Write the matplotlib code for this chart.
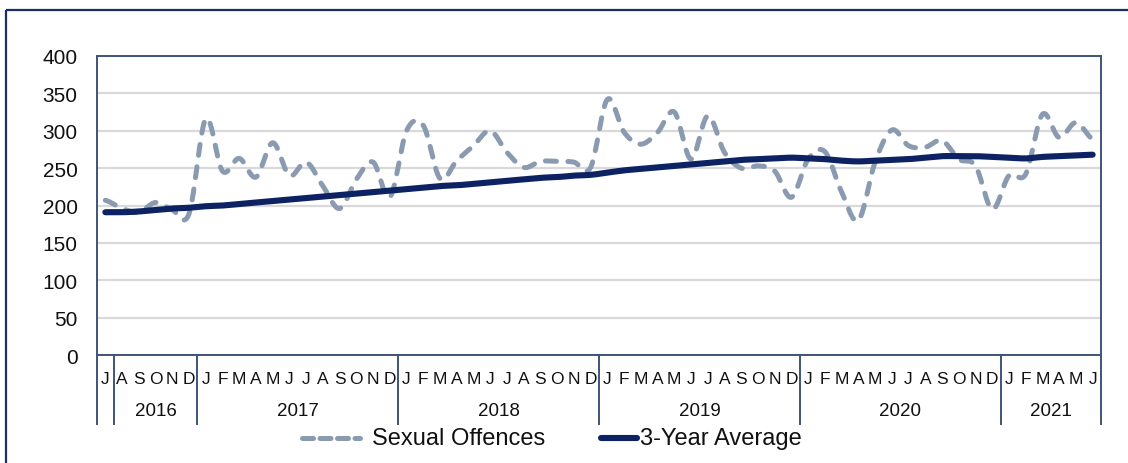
import numpy as np
import matplotlib
matplotlib.use("Agg")
import matplotlib.pyplot as plt
from matplotlib.lines import Line2D
from matplotlib.patches import Rectangle
from matplotlib.transforms import Affine2D

plt.rcParams['font.family'] = ['Liberation Sans', 'DejaVu Sans']

# ---------------- data ----------------
month_labels = ["J", "A", "S", "O", "N", "D"] + \
    ["J", "F", "M", "A", "M", "J", "J", "A", "S", "O", "N", "D"] * 4 + \
    ["J", "F", "M", "A", "M", "J"]
year_labels = ["2016", "2017", "2018", "2019", "2020", "2021"]
year_start = [1, 6, 18, 30, 42, 54]
year_end = [6, 18, 30, 42, 54, 60]
separators = [0, 1, 6, 18, 30, 42, 54, 60]

sexual_offences = [207, 196, 191, 204, 194, 189,
                   316, 246, 263, 238, 284, 240, 258, 226, 196, 235, 258, 211,
                   300, 307, 236, 260, 280, 300, 271, 251, 259, 259, 258, 251,
                   342, 298, 282, 298, 325, 262, 320, 271, 250, 253, 246, 211,
                   262, 272, 218, 180, 258, 301, 280, 278, 287, 262, 253, 195,
                   240, 242, 322, 291, 311, 289]
three_year_avg = [191, 191, 192, 194, 196, 197,
                  199, 200, 202, 204, 206, 208, 210, 212, 214, 216, 218, 220,
                  222, 224, 226, 227, 229, 231, 233, 235, 237, 238, 240, 241,
                  244, 247, 249, 251, 253, 255, 257, 259, 261, 262, 263, 264,
                  263, 262, 260, 259, 260, 261, 262, 264, 266, 266, 266, 265,
                  264, 263, 265, 266, 267, 268]
y_ticks = [0, 50, 100, 150, 200, 250, 300, 350, 400]
series_names = ["Sexual Offences", "3-Year Average"]


def smooth(values, n=24):
    y = np.asarray(values, float)
    p = np.concatenate([[y[0]], y, [y[-1]]])
    xs, ys = [], []
    t = np.linspace(0, 1, n, endpoint=False)
    for i in range(len(y) - 1):
        p0, p1, p2, p3 = p[i], p[i + 1], p[i + 2], p[i + 3]
        yy = 0.5 * (2 * p1 + (-p0 + p2) * t + (2 * p0 - 5 * p1 + 4 * p2 - p3) * t ** 2
                    + (-p0 + 3 * p1 - 3 * p2 + p3) * t ** 3)
        xs.append(i + t)
        ys.append(yy)
    xs.append([len(y) - 1])
    ys.append([y[-1]])
    return np.concatenate(xs) + 0.5, np.concatenate(ys)


W, H = 1128, 464
fig = plt.figure(figsize=(W / 100, H / 100), dpi=100)
fig.patch.set_facecolor("white")

L, R, T, B = 97, 1101, 57, 356
ax = fig.add_axes([L / W, 1 - B / H, (R - L) / W, (B - T) / H])

dash_col = "#8a9ab0"
navy = "#0c2262"
spine_col = "#3d5479"

xs, ys = smooth(sexual_offences)
ax.plot(xs, ys, color=dash_col, lw=3.6, dashes=(2.2, 2.3),
        dash_capstyle="round", zorder=3)
xa, ya = smooth(three_year_avg)
ax.plot(xa, ya, color=navy, lw=4.4, solid_capstyle="round", zorder=4)

ax.set_xlim(0, 60)
ax.set_ylim(0, 400)
ax.set_yticks(y_ticks)
ax.set_yticklabels([str(v) for v in y_ticks], fontsize=15, color="#111111")
ax.tick_params(axis="y", length=0, pad=14)
ax.set_xticks([])
ax.grid(axis="y", color="#d9d9d9", lw=1.6)
ax.set_axisbelow(True)
for s in ax.spines.values():
    s.set_color(spine_col)
    s.set_linewidth(1.4)

# category labels
for i, m in enumerate(month_labels):
    ax.text(i + 0.5, -0.080, m, transform=ax.get_xaxis_transform(),
            ha="center", va="center", fontsize=12.5, color="#111111")
for lab, s, e in zip(year_labels, year_start, year_end):
    ax.text((s + e) / 2, -0.187, lab, transform=ax.get_xaxis_transform(),
            ha="center", va="center", fontsize=13.5, color="#111111")
for sx in separators:
    ax.plot([sx, sx], [0, -0.231], transform=ax.get_xaxis_transform(),
            color=spine_col, lw=1.4, clip_on=False)

# legend (figure pixel coordinates)
pix = Affine2D().scale(1 / W, -1 / H).translate(0, 1) + fig.transFigure
fig.add_artist(Line2D([302, 360], [439, 439], transform=pix, color=dash_col,
                      lw=3.6, dashes=(2.2, 1.3), dash_capstyle="round"))
fig.text(372 / W, 1 - 439 / H, series_names[0], ha="left", va="center",
         fontsize=17, color="#111111")
fig.add_artist(Line2D([601, 637], [439, 439], transform=pix, color=navy,
                      lw=4.4, solid_capstyle="round"))
fig.text(640 / W, 1 - 439 / H, series_names[1], ha="left", va="center",
         fontsize=17, color="#111111")

# outer frame
fig.add_artist(Rectangle((6, 11), 1300, 600, transform=pix, fill=False,
                         edgecolor="#1c2d6b", lw=1.6))

fig.savefig("out.png", dpi=100)
